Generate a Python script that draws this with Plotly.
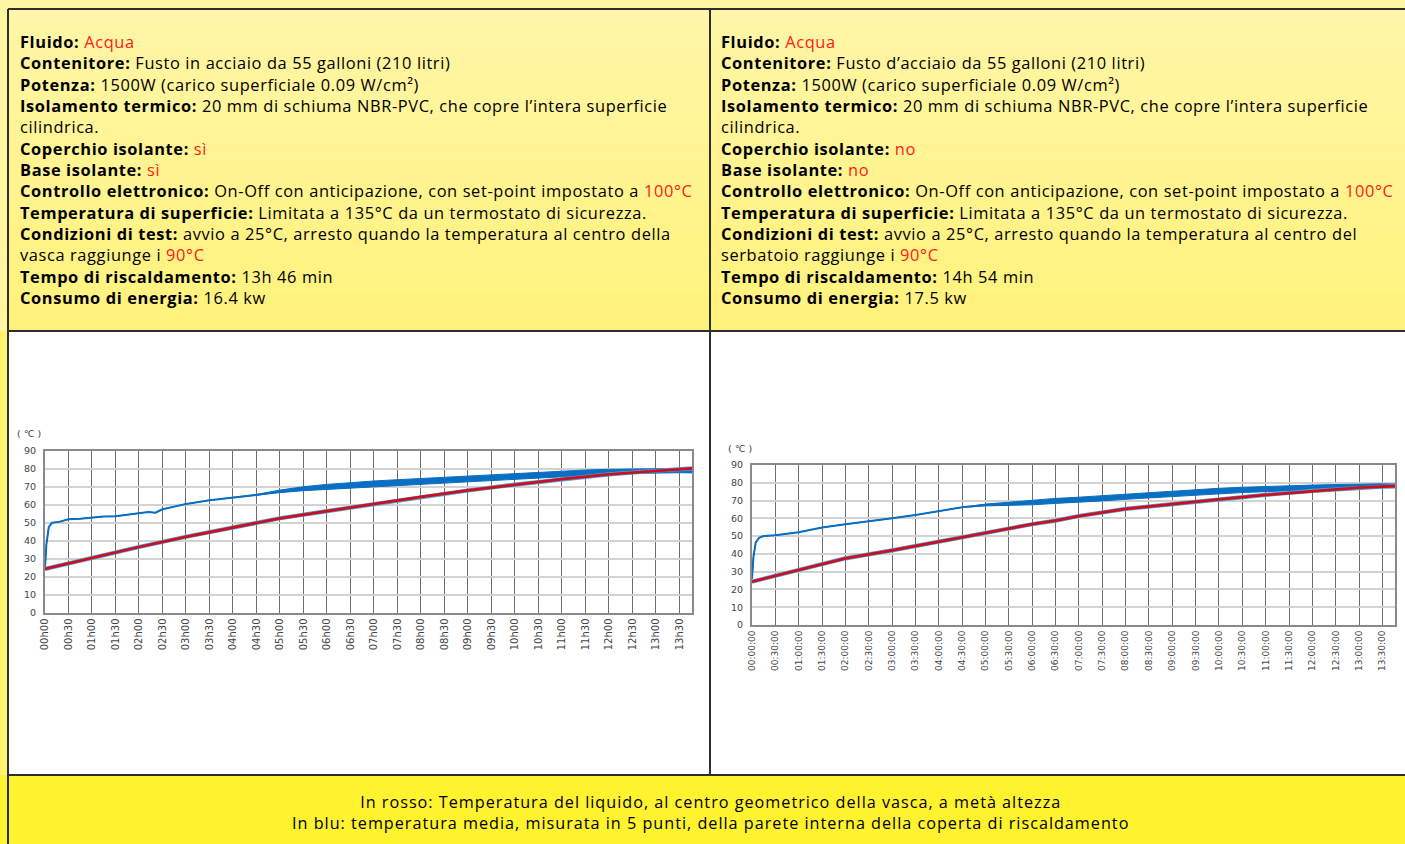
import plotly.graph_objects as go

W, H = 1405, 844

# ---------------- data ----------------
tick_hours = [i * 0.5 for i in range(28)]
tick_text_1 = ["%02dh%02d" % (int(h), 30 if h % 1 else 0) for h in tick_hours]
tick_text_2 = ["%02d:%02d:00" % (int(h), 30 if h % 1 else 0) for h in tick_hours]
y_ticks = [0, 10, 20, 30, 40, 50, 60, 70, 80, 90]

# Chart 1 (insulated lid and base)
blue1_t = [0, 0.03, 0.08, 0.15, 0.3, 0.5, 0.75, 1.0, 1.25, 1.5, 1.75, 2.0, 2.2, 2.35, 2.5, 2.75,
           3.0, 3.5, 4.0, 4.5, 5.0, 5.5, 6.0, 6.5, 7.0, 7.5, 8.0, 8.5, 9.0, 9.5, 10.0, 10.5,
           11.0, 11.5, 12.0, 12.5, 13.0, 13.5, 13.77]
blue1 = [25, 38, 47.5, 50, 50.5, 52, 52.3, 53, 53.5, 53.6, 54.5, 55.5, 56, 55.6, 57.5, 59,
         60.5, 62.5, 64, 65.5, 67.5, 69, 70, 71, 71.8, 72.5, 73.2, 74, 74.7, 75.3, 76, 76.7,
         77.3, 77.9, 78.4, 78.8, 79, 79.1, 79]
blue1_spread = [0, 0, 0, 0, 0, 0, 0, 0, 0, 0, 0, 0, 0, 0, 0, 0,
                0, 0, 0, 0.3, 0.7, 1.1, 1.4, 1.5, 1.5, 1.5, 1.5, 1.5, 1.5, 1.5, 1.5, 1.5,
                1.5, 1.5, 1.4, 1.3, 1.2, 1.2, 1.2]
red1_t = [0, 1, 2, 3, 4, 5, 6, 7, 8, 9, 10, 11, 12, 13, 13.77]
red1 = [24.3, 30.5, 36.5, 42.2, 47.5, 52.5, 56.5, 60.5, 64.5, 68, 71.3, 74.3, 77, 79, 80.3]

# Chart 2 (no lid, no base insulation)
blue2_t = [0, 0.03, 0.08, 0.15, 0.25, 0.5, 1.0, 1.5, 2.0, 2.5, 3.0, 3.5, 4.0, 4.5, 5.0, 5.5,
           6.0, 6.5, 7.0, 7.5, 8.0, 8.5, 9.0, 9.5, 10.0, 10.5, 11.0, 11.5, 12.0, 12.5, 13.0,
           13.5, 13.77]
blue2 = [26, 38, 46.5, 49, 50, 50.5, 52.2, 54.8, 56.7, 58.2, 60, 61.9, 64.2, 66.2, 67.5, 68.1,
         68.9, 69.8, 70.4, 71.3, 72.2, 73, 73.7, 74.6, 75.4, 76, 76.5, 77, 77.4, 77.8, 78.2,
         78.3, 78.2]
blue2_spread = [0, 0, 0, 0, 0, 0, 0, 0, 0, 0, 0, 0, 0, 0, 0.5, 1.0,
                1.3, 1.4, 1.5, 1.5, 1.5, 1.5, 1.5, 1.5, 1.5, 1.5, 1.5, 1.4, 1.3, 1.2, 1.1,
                1.1, 1.1]
red2_t = [0, 1, 2, 3, 4, 4.5, 5, 6, 6.5, 7, 8, 9, 10, 11, 12, 13, 13.77]
red2 = [24.4, 31, 37.5, 42, 46.9, 49.3, 52, 56.7, 58.7, 61.3, 65.3, 68.1, 70.7, 73.2, 75.4, 77.3, 78.2]

# text content
left_lines = [
    ("Fluido:", " <span style='color:#ff1a1a'>Acqua</span>"),
    ("Contenitore:", " Fusto in acciaio da 55 galloni (210 litri)"),
    ("Potenza:", " 1500W (carico superficiale 0.09 W/cm²)"),
    ("Isolamento termico:", " 20 mm di schiuma NBR-PVC, che copre l’intera superficie"),
    ("", "cilindrica."),
    ("Coperchio isolante:", " <span style='color:#ff1a1a'>sì</span>"),
    ("Base isolante:", " <span style='color:#ff1a1a'>sì</span>"),
    ("Controllo elettronico:", " On-Off con anticipazione, con set-point impostato a <span style='color:#ff1a1a'>100°C</span>"),
    ("Temperatura di superficie:", " Limitata a 135°C da un termostato di sicurezza."),
    ("Condizioni di test:", " avvio a 25°C, arresto quando la temperatura al centro della"),
    ("", "vasca raggiunge i <span style='color:#ff1a1a'>90°C</span>"),
    ("Tempo di riscaldamento:", " 13h 46 min"),
    ("Consumo di energia:", " 16.4 kw"),
]
right_lines = [
    ("Fluido:", " <span style='color:#ff1a1a'>Acqua</span>"),
    ("Contenitore:", " Fusto d’acciaio da 55 galloni (210 litri)"),
    ("Potenza:", " 1500W (carico superficiale 0.09 W/cm²)"),
    ("Isolamento termico:", " 20 mm di schiuma NBR-PVC, che copre l’intera superficie"),
    ("", "cilindrica."),
    ("Coperchio isolante:", " <span style='color:#ff1a1a'>no</span>"),
    ("Base isolante:", " <span style='color:#ff1a1a'>no</span>"),
    ("Controllo elettronico:", " On-Off con anticipazione, con set-point impostato a <span style='color:#ff1a1a'>100°C</span>"),
    ("Temperatura di superficie:", " Limitata a 135°C da un termostato di sicurezza."),
    ("Condizioni di test:", " avvio a 25°C, arresto quando la temperatura al centro del"),
    ("", "serbatoio raggiunge i <span style='color:#ff1a1a'>90°C</span>"),
    ("Tempo di riscaldamento:", " 14h 54 min"),
    ("Consumo di energia:", " 17.5 kw"),
]
footer_lines = [
    "In rosso: Temperatura del liquido, al centro geometrico della vasca, a metà altezza",
    "In blu: temperatura media, misurata in 5 punti, della parete interna della coperta di riscaldamento",
]

# ---------------- helpers ----------------
def px(x):
    return x / W

def py(y):
    return 1 - y / H

TEXT_FONT = "Open Sans"
BLUE = "#0a6fc2"
RED = "#c8101e"

fig = go.Figure()
shapes = []
annotations = []

def lerp(c1, c2, f):
    return "rgb(%d,%d,%d)" % tuple(round(a + (b - a) * f) for a, b in zip(c1, c2))

# top strip / left strip
shapes.append(dict(type="rect", xref="paper", yref="paper", x0=0, x1=1, y0=py(331), y1=1,
                   fillcolor="#fff6a2", line_width=0, layer="below"))
shapes.append(dict(type="rect", xref="paper", yref="paper", x0=0, x1=px(8), y0=0, y1=py(331),
                   fillcolor="#fff370", line_width=0, layer="below"))
shapes.append(dict(type="rect", xref="paper", yref="paper", x0=0, x1=px(8), y0=0, y1=py(775),
                   fillcolor="#fff22e", line_width=0, layer="below"))
# top row gradient
n = 24
top_c, bot_c = (255, 246, 168), (255, 242, 122)
for i in range(n):
    y0 = 9 + (331 - 9) * i / n
    y1 = 9 + (331 - 9) * (i + 1) / n
    shapes.append(dict(type="rect", xref="paper", yref="paper", x0=px(8), x1=1,
                       y0=py(y1), y1=py(y0), fillcolor=lerp(top_c, bot_c, (i + 0.5) / n),
                       line_width=0, layer="below"))
# middle row white
shapes.append(dict(type="rect", xref="paper", yref="paper", x0=px(8), x1=1, y0=py(775), y1=py(331),
                   fillcolor="white", line_width=0, layer="below"))
# bottom row
shapes.append(dict(type="rect", xref="paper", yref="paper", x0=px(8), x1=1, y0=0, y1=py(775),
                   fillcolor="#fff22e", line_width=0, layer="below"))

# borders
bc = "#2e2e2e"
for (x0, y0, x1, y1) in [(8, 9, W, 9), (8, 9, 8, H), (8, 331, W, 331), (8, 775, W, 775), (710, 9, 710, 775)]:
    shapes.append(dict(type="line", xref="paper", yref="paper", x0=px(x0), y0=py(y0),
                       x1=px(x1), y1=py(y1), line=dict(color=bc, width=2), layer="above"))

# top text: one multi-line block per column (line spacing = 1.3 * font size)
TOP_SIZE = 16.4
TOP_LS = "letter-spacing:0.62px"
first_c, last_c = 42, 42 + 12 * 21.33
for lines, x0 in [(left_lines, 18), (right_lines, 719)]:
    parts = []
    for b, rest in lines:
        parts.append("<span style='%s'>%s%s</span>" % (TOP_LS, ("<b>%s</b>" % b if b else ""), rest))
    annotations.append(dict(xref="paper", yref="paper", x=px(x0), y=py((first_c + last_c) / 2),
                            text="<br>".join(parts), showarrow=False, xanchor="left",
                            yanchor="middle", align="left",
                            font=dict(family=TEXT_FONT, size=TOP_SIZE, color="black")))

FOOT_SIZE = 16.2
annotations.append(dict(
    xref="paper", yref="paper", x=px(710), y=py(812.5),
    text="<br>".join("<span style='letter-spacing:1.0px'>%s</span>" % t for t in footer_lines),
    showarrow=False, xanchor="center", yanchor="middle", align="center",
    font=dict(family=TEXT_FONT, size=FOOT_SIZE, color="black")))

# ---------------- charts ----------------
charts = [
    dict(xa="x", ya="y", dom_x=(45, 692), dom_y=(451, 612.5), ticktext=tick_text_1, xfs=10,
         bt=blue1_t, b=blue1, bs=blue1_spread, rt=red1_t, r=red1, unit=(29, 433)),
    dict(xa="x2", ya="y2", dom_x=(752, 1395), dom_y=(465, 625), ticktext=tick_text_2, xfs=9,
         bt=blue2_t, b=blue2, bs=blue2_spread, rt=red2_t, r=red2, unit=(740, 448)),
]

layout_axes = {}
for k, c in enumerate(charts):
    suffix = "" if k == 0 else str(k + 1)
    upper = [v + s for v, s in zip(c["b"], c["bs"])]
    lower = [v - s for v, s in zip(c["b"], c["bs"])]
    fig.add_trace(go.Scatter(x=c["bt"], y=lower, xaxis=c["xa"], yaxis=c["ya"], mode="lines",
                             line=dict(color=BLUE, width=1), showlegend=False, hoverinfo="skip"))
    fig.add_trace(go.Scatter(x=c["bt"], y=upper, xaxis=c["xa"], yaxis=c["ya"], mode="lines",
                             fill="tonexty", fillcolor=BLUE,
                             line=dict(color=BLUE, width=1), showlegend=False, hoverinfo="skip"))
    fig.add_trace(go.Scatter(x=c["bt"], y=c["b"], xaxis=c["xa"], yaxis=c["ya"], mode="lines",
                             line=dict(color=BLUE, width=2), showlegend=False))
    fig.add_trace(go.Scatter(x=c["rt"], y=c["r"], xaxis=c["xa"], yaxis=c["ya"], mode="lines",
                             line=dict(color="#5b9bd5", width=4.2), showlegend=False, hoverinfo="skip"))
    fig.add_trace(go.Scatter(x=c["rt"], y=c["r"], xaxis=c["xa"], yaxis=c["ya"], mode="lines",
                             line=dict(color=RED, width=2.8), showlegend=False))

    layout_axes["xaxis" + suffix] = dict(
        domain=[px(c["dom_x"][0]), px(c["dom_x"][1])], anchor=c["ya"], automargin=False,
        range=[0, 13.77], tickvals=tick_hours, ticktext=c["ticktext"], tickangle=-90,
        showgrid=True, gridcolor="#6e6e6e", gridwidth=1.3, zeroline=False,
        showline=True, linecolor="#8a8a8a", linewidth=2, mirror=True, ticks="",
        tickfont=dict(family="DejaVu Sans", size=c["xfs"], color="#444"), fixedrange=True)
    layout_axes["yaxis" + suffix] = dict(
        domain=[py(c["dom_y"][1]), py(c["dom_y"][0])], anchor=c["xa"], automargin=False,
        range=[0, 90], tickvals=y_ticks, showgrid=True, gridcolor="#d2d2d2", gridwidth=2,
        zeroline=False, showline=True, linecolor="#8a8a8a", linewidth=2, mirror=True, ticks="",
        ticklabelstandoff=5,
        tickfont=dict(family="DejaVu Sans", size=9.5, color="#444"), fixedrange=True)
    annotations.append(dict(xref="paper", yref="paper", x=px(c["unit"][0]), y=py(c["unit"][1]),
                            text="( ℃ )", showarrow=False, xanchor="center", yanchor="middle",
                            font=dict(family="DejaVu Sans", size=9.5, color="#444")))

fig.update_layout(
    template="none",
    width=W, height=H, margin=dict(l=0, r=0, t=0, b=0, pad=0, autoexpand=False),
    paper_bgcolor="#fff6a2", plot_bgcolor="rgba(0,0,0,0)",
    shapes=shapes, annotations=annotations, showlegend=False, **layout_axes)

fig.write_html("out.html", config={"displayModeBar": False},
               post_script="document.body.style.margin='0';document.body.style.overflow='hidden';")
